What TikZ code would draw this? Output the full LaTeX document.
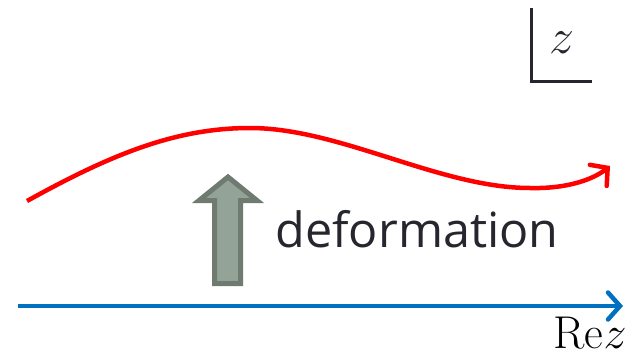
\documentclass[tikz,border=0pt]{standalone}
\usepackage{fix-cm}
\usepackage{fontspec}
\setsansfont{Open Sans}
\usetikzlibrary{arrows.meta}
\definecolor{pathred}{HTML}{FF0000}
\definecolor{axisblue}{HTML}{0070C0}
\definecolor{arrowfill}{HTML}{94A397}
\definecolor{arrowedge}{HTML}{6F7B71}
\definecolor{ink}{HTML}{26262E}
\tikzset{
  barb/.style={-{Straight Barb[length=12pt,width=27pt,line cap=round]}},
  contour/.style={line width=4.5pt,barb},
}
\begin{document}
\begin{tikzpicture}[x=1pt,y=-1pt]
\useasboundingbox (0,0) rectangle (631,361);

% z-plane marker
\coordinate (ztop) at (531,8);
\coordinate (zcorner) at (531,81);
\coordinate (zright) at (592,81);
\draw[ink,line width=3pt] (ztop) -- (zcorner) -- (zright);
\node[ink,font=\fontsize{50}{54}\selectfont] (zlabel) at (562,43) {$z$};

% real axis
\coordinate (rstart) at (18,306);
\coordinate (rend) at (623,306);
\draw[axisblue,contour] (rstart) -- (rend);
\node[font=\fontsize{46}{50}\selectfont,anchor=base] (relabel) at (590,348) {$\mathrm{Re}z$};

% deformed contour
\coordinate (cstart) at (27,201);
\coordinate (cpeak) at (250,128);
\coordinate (cdip) at (530,188);
\coordinate (cend) at (610,166);
\draw[pathred,contour] (cstart) .. controls (110,155) and (175,128) .. (cpeak)
  .. controls (340,128) and (440,188) .. (cdip)
  .. controls (570,189) and (595,178) .. (cend);

% deformation arrow
\draw[arrowedge,fill=arrowfill,line width=5pt,line join=miter]
  (214.5,283.5) -- (214.5,200.5) -- (199,200.5) -- (228,177) -- (257,200.5) -- (240.5,200.5) -- (240.5,283.5) -- cycle;
\node[ink,font=\sffamily\fontsize{48.5}{52}\selectfont,anchor=base west] (deflabel) at (272,247) {deformation};
\end{tikzpicture}
\end{document}
